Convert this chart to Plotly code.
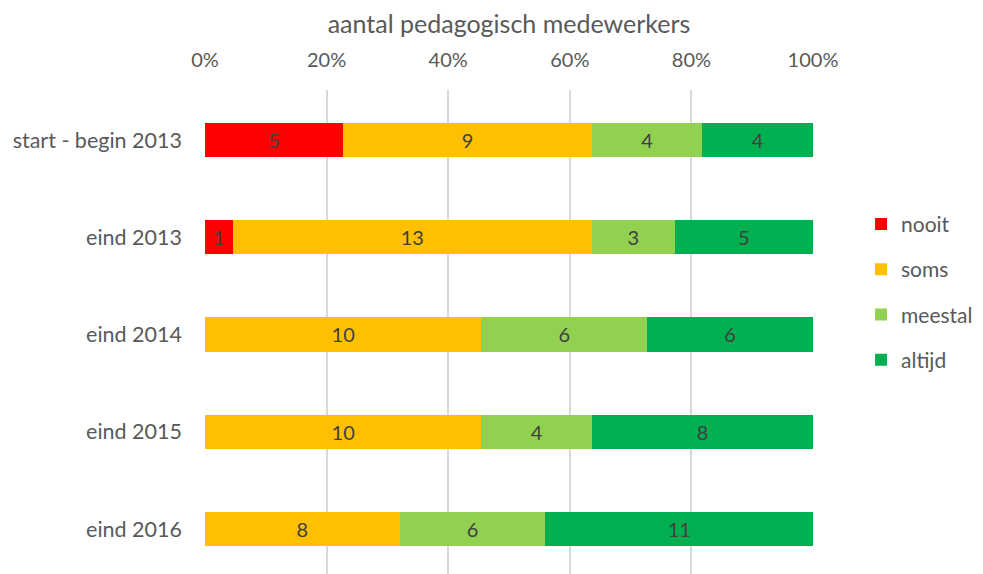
"""Gestapelde 100%-balken: aantal pedagogisch medewerkers per meetmoment."""

import plotly.graph_objects as go

CATEGORIES = ["start - begin 2013", "eind 2013", "eind 2014", "eind 2015", "eind 2016"]

NOOIT = [5, 1, None, None, None]
SOMS = [9, 13, 10, 10, 8]
MEESTAL = [4, 3, 6, 4, 6]
ALTIJD = [4, 5, 6, 8, 11]

TICK_VALS = [0, 20, 40, 60, 80, 100]
TICK_TEXT = ["0%", "20%", "40%", "60%", "80%", "100%"]

SERIES = [
    ("nooit", NOOIT, "#FF0000"),
    ("soms", SOMS, "#FFC000"),
    ("meestal", MEESTAL, "#92D050"),
    ("altijd", ALTIJD, "#00B050"),
]

FONT = "Lato, 'Open Sans', sans-serif"
TEXT_COLOR = "#595959"

fig = go.Figure()
for name, values, color in SERIES:
    fig.add_trace(
        go.Bar(
            y=CATEGORIES, x=values, name=name, orientation="h",
            marker=dict(color=color, line=dict(width=0)),
            text=[("" if v is None else str(v)) for v in values],
            textposition="inside", insidetextanchor="middle",
            textfont=dict(color="#404040", size=20, family=FONT),
            constraintext="none", legendgroup=name,
        )
    )

# pagina heeft 8px body-marge: figuur iets kleiner dan het venster
fig.update_layout(
    barmode="stack", barnorm="percent", bargap=0.65,
    width=975, height=566,
    margin=dict(l=197, r=170, t=82, b=0),
    paper_bgcolor="white", plot_bgcolor="white",
    font=dict(family=FONT, color=TEXT_COLOR, size=20),
    legend=dict(
        x=1.079, xanchor="left", y=0.765, yanchor="top",
        font=dict(size=21, color=TEXT_COLOR), tracegroupgap=15,
        traceorder="grouped", itemwidth=30,
    ),
    xaxis=dict(
        side="top", range=[0, 100], tickvals=TICK_VALS, ticktext=TICK_TEXT,
        showgrid=True, gridcolor="#D9D9D9", gridwidth=1.5, zeroline=False,
        showline=False, ticks="", tickfont=dict(size=20), ticklabelstandoff=18,
        title=dict(text="aantal pedagogisch medewerkers", font=dict(size=25), standoff=12),
    ),
    yaxis=dict(
        range=[4.463, -0.514], showgrid=False, zeroline=False, showline=False,
        ticks="", ticklabelstandoff=22, tickfont=dict(size=21.5),
    ),
)

fig.write_html("out.html")
